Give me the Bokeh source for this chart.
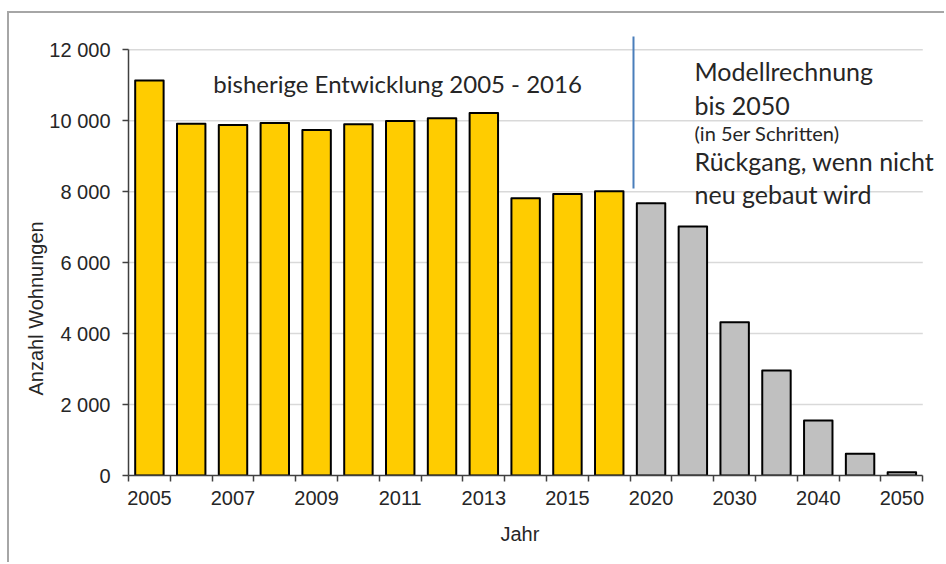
from bokeh.plotting import figure
from bokeh.models import FixedTicker, Range1d, Label, ColumnDataSource, Title
from bokeh.embed import file_html
from bokeh.resources import INLINE

# ---- data -------------------------------------------------------------
hist_years = ["2005", "2006", "2007", "2008", "2009", "2010", "2011",
              "2012", "2013", "2014", "2015", "2016"]
hist_values = [11130, 9910, 9880, 9935, 9740, 9900, 9990,
               10065, 10215, 7810, 7935, 8010]
model_years = ["2020", "2025", "2030", "2035", "2040", "2045", "2050"]
model_values = [7670, 7015, 4320, 2960, 1550, 610, 95]
ytick_values = [0, 2000, 4000, 6000, 8000, 10000, 12000]
ytick_labels = ["0", "2 000", "4 000", "6 000", "8 000", "10 000", "12 000"]

x_title = "Jahr"
y_title = "Anzahl Wohnungen"
text_hist = "bisherige Entwicklung 2005 - 2016"
text_model = ["Modellrechnung", "bis 2050", "(in 5er Schritten)",
              "Rückgang, wenn nicht", "neu gebaut wird"]

YELLOW = "#FFCC00"
GRAY = "#C0C0C0"

years = hist_years + model_years
values = hist_values + model_values
n = len(years)
xs = [i + 0.5 for i in range(n)]
colors = [YELLOW] * len(hist_years) + [GRAY] * len(model_years)
src = ColumnDataSource(dict(x=xs, top=values, color=colors, year=years))

p = figure(width=937, height=551, output_backend="svg", toolbar_location=None,
           x_range=Range1d(0, n + 0.4), y_range=Range1d(0, 12400),
           min_border_left=119, min_border_right=7,
           min_border_top=22, min_border_bottom=89)
p.styles = {"position": "absolute", "left": "7px", "top": "11px",
            "border-left": "2px solid #A6A6A6", "border-top": "2px solid #A6A6A6"}
p.outline_line_color = None
p.background_fill_color = "white"
p.border_fill_color = "white"

# horizontal grid lines, only over the category span
grid_y = ytick_values[1:]
p.segment(x0=[0] * len(grid_y), x1=[n] * len(grid_y), y0=grid_y, y1=grid_y,
          line_color="#D9D9D9", line_width=1.5)
p.xgrid.visible = False
p.ygrid.visible = False

p.vbar(x="x", top="top", width=0.68, bottom=0, source=src,
       fill_color="color", line_color="black", line_width=2, line_join="round")

# split line between history and model calculation
split_x = len(hist_years) + 0.08
p.segment(x0=[split_x], y0=[8085], x1=[split_x], y1=[12370],
          line_color="#4A7EBB", line_width=2)

# axes
TICK_FONT = "Liberation Sans"
xa = p.xaxis[0]
xa.ticker = FixedTicker(ticks=[xs[i] for i in range(0, n, 2)],
                        minor_ticks=list(range(n + 1)))
xa.major_label_overrides = {xs[i]: years[i] for i in range(0, n, 2)}
xa.major_tick_out = 0
xa.major_tick_in = 0
xa.minor_tick_out = 6
xa.minor_tick_in = 0
xa.bounds = (0, n)

ya = p.yaxis[0]
ya.ticker = FixedTicker(ticks=ytick_values)
ya.major_label_overrides = dict(zip(ytick_values, ytick_labels))
ya.major_tick_out = 6
ya.major_tick_in = 0
ya.minor_tick_out = 0
ya.minor_tick_in = 0
ya.bounds = (0, 12000)

for ax in (xa, ya):
    ax.axis_line_color = "#404040"
    ax.axis_line_width = 1.5
    ax.major_tick_line_color = "#404040"
    ax.major_tick_line_width = 1.5
    ax.minor_tick_line_color = "#404040"
    ax.minor_tick_line_width = 1.5
    ax.major_label_text_font = TICK_FONT
    ax.major_label_text_font_size = "20px"
    ax.major_label_text_color = "#262626"

xa.major_label_standoff = 9
ya.major_label_standoff = 12

# axis titles (placed like the original)
p.add_layout(Title(text=y_title, align="left", offset=80, standoff=0,
                   text_font=TICK_FONT, text_font_size="20px",
                   text_font_style="normal", text_color="#262626"), "left")
p.add_layout(Title(text=x_title, align="left", offset=372, standoff=26,
                   text_font=TICK_FONT, text_font_size="20px",
                   text_font_style="normal", text_color="#262626"), "below")

# annotations
ANN_FONT = "Lato"
p.add_layout(Label(x=2.03, y=11037, text=text_hist, text_font=ANN_FONT,
                   text_font_size="24px", text_color="#262626",
                   text_baseline="alphabetic"))
base_y = [11400, 10445, 9650, 8855, 7940]
sizes = ["25px", "25px", "20px", "25px", "25px"]
for t, yy, fs in zip(text_model, base_y, sizes):
    p.add_layout(Label(x=13.54, y=yy, text=t, text_font=ANN_FONT,
                       text_font_size=fs, text_color="#262626",
                       text_baseline="alphabetic"))

open("out.html", "w").write(file_html(p, INLINE))
